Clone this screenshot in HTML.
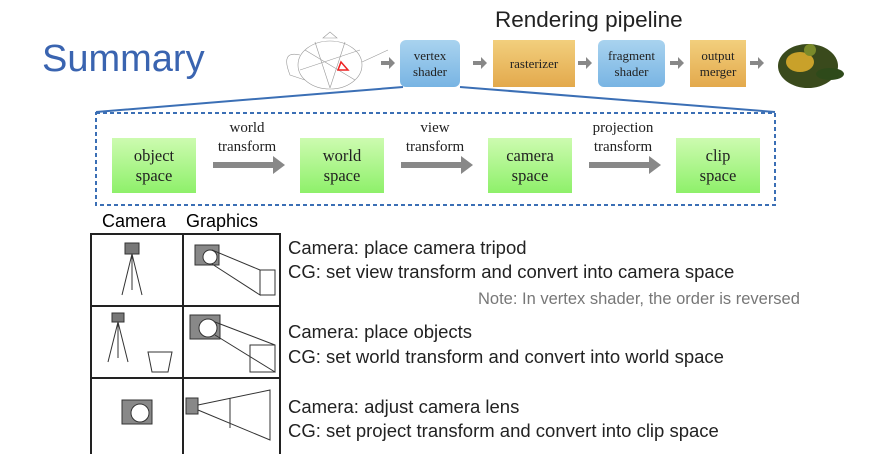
<!DOCTYPE html>
<html><head><style>
body{margin:0;width:872px;height:454px;background:#fff;position:relative;overflow:hidden;font-family:"Liberation Sans",sans-serif}
.a{position:absolute}
.pb{position:absolute;border-radius:6px;background:linear-gradient(#a9d3ef,#78b4e3);font-family:"Liberation Serif",serif;font-size:13px;text-align:center;display:flex;align-items:center;justify-content:center;line-height:16px;color:#222}
.ob{position:absolute;background:linear-gradient(#f2cf7d,#e3a94c);font-family:"Liberation Serif",serif;font-size:13px;text-align:center;display:flex;align-items:center;justify-content:center;line-height:16px;color:#222}
.gb{position:absolute;top:138px;width:84px;height:55px;background:linear-gradient(#cdfbb0,#8ef06a);font-family:"Liberation Serif",serif;font-size:16.5px;text-align:center;display:flex;align-items:center;justify-content:center;line-height:20px;color:#222}
.tl{position:absolute;font-family:"Liberation Serif",serif;font-size:15px;text-align:center;line-height:19px;color:#222;width:100px}
.t{position:absolute;font-size:18.5px;color:#222;white-space:nowrap}
</style></head><body>
<div class="a" style="left:42px;top:38px;font-size:38px;color:#3a64b0">Summary</div>
<div class="a" style="left:495px;top:7px;font-size:22.5px;color:#222">Rendering pipeline</div>
<svg class="a" style="left:0;top:0" width="872" height="454">
<g stroke="#999" fill="none" stroke-width="0.6">
<ellipse cx="330" cy="65" rx="32" ry="24"/><path d="M300 55 Q280 50 290 75 L305 80 M362 62 L388 50 M323 38 L337 38 L330 32z"/>
<path d="M305 50 L355 80 M300 70 L360 50 M315 42 L330 88 M345 42 L330 88"/>
</g>
<path d="M341 62 L348 70 L338 70z" stroke="#e22" fill="none" stroke-width="1.5"/>
<ellipse cx="808" cy="66" rx="30" ry="22" fill="#3a4a1c"/><ellipse cx="800" cy="62" rx="14" ry="10" fill="#c9a12a"/><ellipse cx="830" cy="74" rx="14" ry="6" fill="#2e4a1a"/><circle cx="810" cy="50" r="6" fill="#7a8a2a"/>
<g fill="#888"><path d="M381 61h8v-4l6 6-6 6v-4h-8z"/><path d="M473 61h8v-4l6 6-6 6v-4h-8z"/><path d="M578 61h8v-4l6 6-6 6v-4h-8z"/><path d="M670 61h8v-4l6 6-6 6v-4h-8z"/><path d="M750 61h8v-4l6 6-6 6v-4h-8z"/></g>
<path d="M403 87 L96 112 M460 87 L775 112" stroke="#3b6fb5" stroke-width="2" fill="none"/>
<rect x="96" y="113" width="679" height="92" fill="none" stroke="#3b6fb5" stroke-width="2" stroke-dasharray="4,3"/>
<g fill="#888"><path d="M213 162h60v-6l12 9-12 9v-6h-60z"/><path d="M401 162h60v-6l12 9-12 9v-6h-60z"/><path d="M589 162h60v-6l12 9-12 9v-6h-60z"/></g>
<g stroke="#222" stroke-width="2" fill="none"><rect x="91" y="234" width="189" height="222"/><path d="M183 234V454M91 306H280M91 378H280"/></g>
<g stroke="#333" fill="none" stroke-width="1">
<rect x="125" y="243" width="14" height="11" fill="#777"/><path d="M132 254L122 295M132 254L142 295M132 254V290"/>
<rect x="195" y="245" width="24" height="20" fill="#888"/><circle cx="210" cy="257" r="7" fill="#fff"/><path d="M212 250L260 270V295L212 264M260 270H275V295H260"/>
<rect x="112" y="313" width="12" height="9" fill="#777"/><path d="M118 322L108 362M118 322L128 362M118 322V358"/><path d="M148 352H172L168 372H152Z"/>
<rect x="190" y="315" width="30" height="24" fill="#888"/><circle cx="208" cy="328" r="9" fill="#fff"/><path d="M215 322L275 345V372L215 335M250 345H275V372H250Z"/>
<rect x="122" y="400" width="30" height="24" fill="#888"/><circle cx="140" cy="413" r="9" fill="#fff"/>
<rect x="186" y="398" width="12" height="16" fill="#888"/><path d="M198 405L270 390V440L198 410M230 398V428"/>
</g>
</svg>
<div class="pb" style="left:400px;top:40px;width:60px;height:47px">vertex<br>shader</div>
<div class="ob" style="left:493px;top:40px;width:82px;height:47px">rasterizer</div>
<div class="pb" style="left:598px;top:40px;width:67px;height:47px">fragment<br>shader</div>
<div class="ob" style="left:690px;top:40px;width:56px;height:47px">output<br>merger</div>
<div class="gb" style="left:112px">object<br>space</div>
<div class="gb" style="left:300px">world<br>space</div>
<div class="gb" style="left:488px">camera<br>space</div>
<div class="gb" style="left:676px">clip<br>space</div>
<div class="tl" style="left:197px;top:119px">world<br>transform</div>
<div class="tl" style="left:385px;top:119px">view<br>transform</div>
<div class="tl" style="left:573px;top:119px">projection<br>transform</div>
<div class="a" style="left:102px;top:211px;font-size:18px">Camera</div>
<div class="a" style="left:186px;top:211px;font-size:18px">Graphics</div>
<div class="t" style="left:288px;top:237px">Camera: place camera tripod</div>
<div class="t" style="left:288px;top:261px">CG: set view transform and convert into camera space</div>
<div class="a" style="left:478px;top:290px;font-size:16.5px;color:#777;white-space:nowrap">Note: In vertex shader, the order is reversed</div>
<div class="t" style="left:288px;top:321px">Camera: place objects</div>
<div class="t" style="left:288px;top:346px">CG: set world transform and convert into world space</div>
<div class="t" style="left:288px;top:396px">Camera: adjust camera lens</div>
<div class="t" style="left:288px;top:420px">CG: set project transform and convert into clip space</div>
</body></html>
